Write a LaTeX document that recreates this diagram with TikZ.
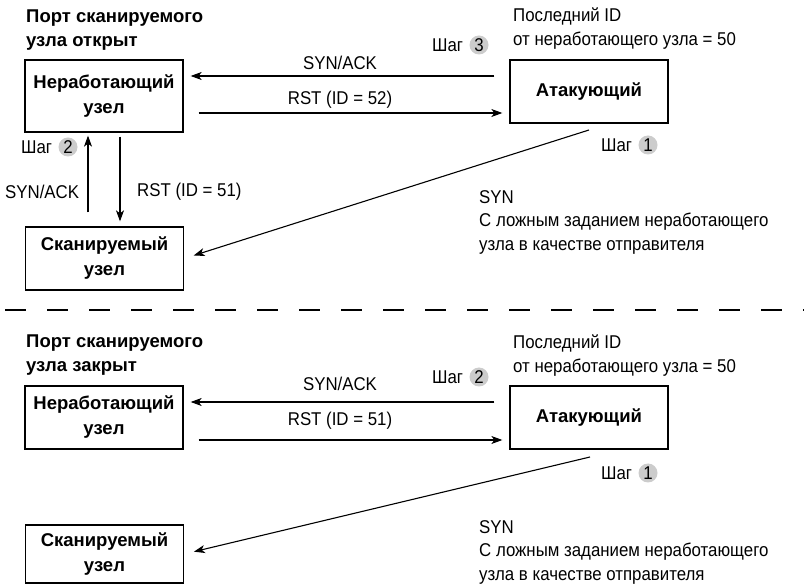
\documentclass[tikz,border=0pt]{standalone}
\usepackage{fontspec}
\setmainfont[FakeStretch=0.91]{Liberation Sans}
\newfontfamily\hdbold{Liberation Sans}
\usetikzlibrary{arrows.meta,calc}
\begin{document}
\begin{tikzpicture}[x=1pt,y=-1pt,
  every node/.style={inner sep=0pt, font=\fontsize{18.5}{23.5}\selectfont},
  hostbox/.style={draw, line width=1.3pt, minimum width=158pt, minimum height=63pt, align=center, font=\fontsize{18.5}{25}\selectfont\hdbold\bfseries},
  titletext/.style={anchor=north west, align=left, font=\fontsize{18.5}{23.5}\selectfont\hdbold\bfseries},
  note/.style={anchor=north west, align=left},
  arr/.style={line width=1.1pt, -{Stealth[length=11pt,width=8pt,inset=3pt]}},
  badge/.style={circle, fill=black!20, minimum size=19pt},
  sep/.style={line width=1.6pt, dash pattern=on 21pt off 21pt}
]
\useasboundingbox (0,0) rectangle (804,585);

% ---------- top panel ----------
\node[titletext] (t1) at (26,10) {Порт сканируемого\\узла открыт};
\node[note] (id1) at (513,8) {Последний ID\\от неработающего узла = 50};

\node[hostbox, minimum height=72pt] (nw1) at (104,96) {Неработающий\\узел};
\node[hostbox] (atk1) at (589,91.5) {Атакующий};
\node[hostbox] (scan1) at (104.5,258.5) {Сканируемый\\узел};

\draw[arr, shorten <=15pt, shorten >=7pt] ($(atk1.west)+(0,-15.5)$) -- ($(nw1.east)+(0,-20)$);
\draw[arr, shorten <=15pt, shorten >=7pt] ($(nw1.east)+(0,17)$) -- ($(atk1.west)+(0,21.5)$);
\node (l1) at (340,63) {SYN/ACK};
\node (l2) at (340,100) {RST (ID = 52)};

\draw[arr, shorten <=14pt, shorten >=3pt] ($(scan1.north)+(-16.5,0)$) -- ($(nw1.south)+(-16,0)$);
\draw[arr, shorten <=4pt, shorten >=5pt] ($(nw1.south)+(16,0)$) -- ($(scan1.north)+(15.5,0)$);
\node[anchor=west] (l3) at (5,192) {SYN/ACK};
\node[anchor=west] (l4) at (137,192) {RST (ID = 51)};

\coordinate (d1) at (589,130);
\draw[arr, shorten >=10pt] (d1) -- (scan1.east);

\node[badge] (b3) at (479,45) {3};
\node[anchor=east] (s3) at ($(b3.west)+(-6,0)$) {Шаг};
\node[badge] (b2) at (68,147) {2};
\node[anchor=east] (s2) at ($(b2.west)+(-6,0)$) {Шаг};
\node[badge] (b1) at (648,145) {1};
\node[anchor=east] (s1) at ($(b1.west)+(-6,0)$) {Шаг};

\node[note] (syn1) at (479,190) {SYN\\С ложным заданием неработающего\\узла в качестве отправителя};

% ---------- separator ----------
\draw[sep] (5,310) -- (804,310);

% ---------- bottom panel ----------
\node[titletext] (t2) at (26,335) {Порт сканируемого\\узла закрыт};
\node[note] (id2) at (513,335) {Последний ID\\от неработающего узла = 50};

\node[hostbox] (nw2) at (104,417.5) {Неработающий\\узел};
\node[hostbox] (atk2) at (589,417.5) {Атакующий};
\node[hostbox, minimum height=58pt] (scan2) at (104.5,554) {Сканируемый\\узел};

\draw[arr, shorten <=15pt, shorten >=7pt] ($(atk2.west)+(0,-15.5)$) -- ($(nw2.east)+(0,-15.5)$);
\draw[arr, shorten <=15pt, shorten >=7pt] ($(nw2.east)+(0,22.5)$) -- ($(atk2.west)+(0,22.5)$);
\node (l5) at (340,383.5) {SYN/ACK};
\node (l6) at (340,421) {RST (ID = 51)};

\coordinate (d2) at (590,457);
\draw[arr, shorten >=10pt] (d2) -- (scan2.east);

\node[badge] (b2b) at (479,377) {2};
\node[anchor=east] (s2b) at ($(b2b.west)+(-6,0)$) {Шаг};
\node[badge] (b1b) at (648,473) {1};
\node[anchor=east] (s1b) at ($(b1b.west)+(-6,0)$) {Шаг};

\node[note] (syn2) at (479,520) {SYN\\С ложным заданием неработающего\\узла в качестве отправителя};
\end{tikzpicture}
\end{document}
